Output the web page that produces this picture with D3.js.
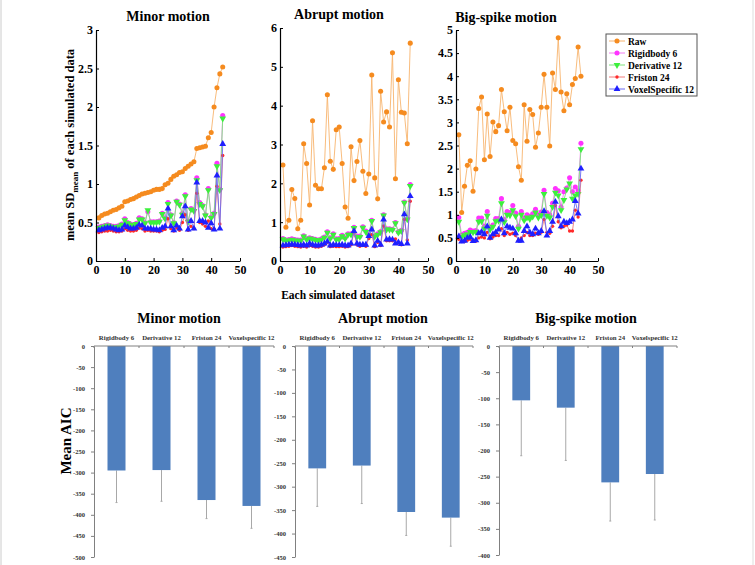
<!DOCTYPE html>
<html>
<head>
<meta charset="utf-8">
<script src="https://cdn.jsdelivr.net/npm/d3@7"></script>
<style>
  body { margin: 0; background: #fff; }
  text { font-family: "Liberation Serif", "DejaVu Serif", serif; font-weight: bold; }
</style>
</head>
<body>
<script>
// ---------- data: line charts (mean SD per simulated dataset, datasets 1..44) ----------
var seriesNames = ["Raw", "Rigidbody 6", "Derivative 12", "Friston 24", "VoxelSpecific 12"];

var minorRaw = [0.56,0.59,0.61,0.62,0.64,0.66,0.67,0.69,0.71,0.77,0.78,0.80,0.81,0.83,0.85,0.87,0.88,0.89,0.90,0.92,0.93,0.93,0.94,0.99,1.01,1.06,1.10,1.12,1.15,1.16,1.20,1.23,1.26,1.29,1.46,1.47,1.48,1.49,1.60,1.67,2.00,2.25,2.43,2.52];
var minorRigid = [0.44,0.45,0.46,0.47,0.46,0.45,0.45,0.46,0.48,0.55,0.50,0.48,0.47,0.49,0.56,0.55,0.50,0.64,0.51,0.51,0.51,0.52,0.62,0.56,0.76,0.60,0.50,0.78,0.74,0.62,0.86,0.52,0.68,0.66,1.08,0.76,0.72,0.60,0.94,0.57,0.62,1.27,0.93,1.89];
var minorDeriv = [0.43,0.44,0.45,0.46,0.45,0.44,0.44,0.45,0.47,0.53,0.49,0.47,0.46,0.48,0.54,0.54,0.49,0.66,0.50,0.50,0.50,0.51,0.61,0.55,0.74,0.59,0.49,0.77,0.73,0.60,0.84,0.51,0.67,0.65,1.05,0.74,0.71,0.59,0.92,0.56,0.61,1.23,0.92,1.85];
var minorFriston = [0.37,0.38,0.39,0.39,0.40,0.39,0.38,0.38,0.39,0.42,0.40,0.39,0.39,0.40,0.43,0.42,0.39,0.40,0.39,0.39,0.39,0.38,0.40,0.41,0.55,0.42,0.39,0.43,0.40,0.50,0.60,0.40,0.45,0.42,0.88,0.50,0.48,0.45,0.52,0.42,0.41,0.97,0.48,1.37];
var minorVoxel = [0.40,0.41,0.42,0.43,0.43,0.42,0.41,0.40,0.41,0.46,0.44,0.42,0.42,0.43,0.47,0.46,0.42,0.42,0.42,0.41,0.41,0.40,0.43,0.45,0.68,0.45,0.40,0.46,0.42,0.58,0.71,0.41,0.52,0.42,1.02,0.52,0.52,0.50,0.43,0.49,0.41,1.11,0.42,1.52];

var abruptRaw = [2.47,0.87,1.05,1.84,1.61,0.83,1.05,3.02,2.51,1.44,3.61,1.95,1.86,1.86,2.40,4.28,2.57,2.36,3.38,3.45,2.51,1.39,1.10,2.94,2.07,2.56,3.10,2.31,1.74,2.24,4.79,2.14,1.60,4.37,3.58,3.84,3.45,5.36,2.12,4.67,3.83,3.81,3.02,5.61];
var abruptRigid = [0.58,0.54,0.55,0.57,0.55,0.54,0.54,0.65,0.57,0.60,0.58,0.56,0.54,0.57,0.62,0.75,0.60,0.70,0.57,0.58,0.66,0.60,0.70,0.70,0.87,0.64,0.64,0.88,0.77,0.68,1.05,0.65,0.70,0.76,1.19,0.83,0.83,0.82,0.99,0.75,0.79,1.52,1.09,1.97];
var abruptDeriv = [0.56,0.52,0.53,0.55,0.53,0.52,0.52,0.63,0.55,0.58,0.56,0.54,0.52,0.55,0.60,0.73,0.58,0.68,0.55,0.56,0.64,0.58,0.68,0.68,0.85,0.62,0.62,0.86,0.75,0.66,1.03,0.63,0.68,0.74,1.17,0.81,0.81,0.80,0.97,0.73,0.77,1.50,1.07,1.93];
var abruptFriston = [0.36,0.37,0.38,0.40,0.38,0.37,0.36,0.38,0.36,0.40,0.38,0.36,0.36,0.38,0.42,0.48,0.37,0.38,0.37,0.37,0.38,0.36,0.37,0.42,0.73,0.42,0.38,0.40,0.38,0.58,0.68,0.37,0.48,0.40,0.90,0.52,0.52,0.52,0.57,0.46,0.42,1.07,0.54,1.54];
var abruptVoxel = [0.40,0.41,0.42,0.43,0.42,0.41,0.40,0.42,0.40,0.45,0.42,0.40,0.40,0.42,0.45,0.50,0.40,0.42,0.41,0.41,0.42,0.40,0.40,0.45,0.77,0.45,0.42,0.42,0.42,0.64,0.81,0.40,0.52,0.42,1.07,0.55,0.56,0.55,0.45,0.48,0.44,1.20,0.45,1.67];

var bigRaw = [2.73,1.05,1.62,2.07,2.17,1.51,1.99,3.30,3.55,2.19,3.18,2.26,3.01,2.80,2.93,3.71,3.23,2.82,3.33,2.61,2.54,2.04,1.75,3.38,2.59,3.28,3.17,2.46,2.77,3.33,4.04,3.33,2.49,4.07,3.71,4.83,3.66,3.25,3.62,3.38,3.82,3.95,4.63,4.00];
var bigRigid = [0.94,0.57,0.60,0.62,0.67,0.65,0.66,0.93,0.93,0.75,1.07,0.72,0.78,0.92,0.92,1.35,0.90,1.07,1.05,1.20,1.04,0.75,1.07,0.93,1.00,0.97,1.02,1.12,1.00,1.06,1.53,1.05,1.00,1.25,1.57,1.52,1.17,1.50,1.58,1.80,1.50,1.60,1.52,2.55];
var bigDeriv = [0.85,0.52,0.56,0.58,0.63,0.62,0.63,0.85,0.86,0.70,0.98,0.68,0.74,0.86,0.87,1.25,0.84,1.00,0.99,1.10,0.97,0.70,1.00,0.88,0.94,0.91,0.96,1.05,0.94,0.99,1.45,0.98,0.94,1.17,1.48,1.42,1.10,1.32,1.55,1.68,1.35,1.42,1.45,2.42];
var bigFriston = [0.47,0.42,0.42,0.45,0.47,0.44,0.43,0.50,0.52,0.50,0.62,0.48,0.52,0.55,0.55,0.70,0.55,0.62,0.58,0.60,0.55,0.45,0.50,0.55,0.62,0.55,0.55,0.60,0.58,0.62,0.90,0.62,0.60,0.75,1.20,0.85,0.72,0.75,0.78,0.65,0.65,1.10,0.95,1.75];
var bigVoxel = [0.53,0.42,0.44,0.50,0.52,0.43,0.45,0.60,0.63,0.58,0.75,0.50,0.58,0.62,0.68,0.90,0.60,0.75,0.72,0.70,0.60,0.44,0.44,0.65,0.75,0.62,0.58,0.70,0.60,0.65,1.08,0.55,0.65,0.85,1.28,0.97,0.75,0.85,0.82,0.85,0.90,1.30,1.03,2.00];

// ---------- data: bar charts (mean AIC, with SD) ----------
var models = ["Rigidbody 6", "Derivative 12", "Friston 24", "Voxelspecific 12"];
var minorAIC = [-295, -294, -365, -379];
var minorSD  = [76, 74, 44, 53];
var abruptAIC = [-261, -255, -354, -366];
var abruptSD  = [81, 81, 50, 61];
var bigAIC = [-104, -118, -261, -245];
var bigSD  = [106, 101, 74, 88];

// ---------- styles ----------
var markerColor = ["#f58b1f", "#ff33ff", "#3cf03c", "#ff2a2a", "#1f1fff"];
var lineColor   = ["#f7b46e", "#f07ef0", "#7ce27c", "#f27a7a", "#6a6af2"];

var width = 755, height = 565;
var svg = d3.select("body").append("svg")
    .attr("width", width)
    .attr("height", height);

// faint frame edges like the scanned figure
svg.append("line").attr("x1", 1).attr("x2", 1).attr("y1", 0).attr("y2", height).attr("stroke", "#ccc");
svg.append("line").attr("x1", width - 2).attr("x2", width - 2).attr("y1", 0).attr("y2", height).attr("stroke", "#ddd");

function markerPath(i) {
  if (i === 2) return d3.symbol().type(d3.symbolTriangle).size(20)();
  if (i === 4) return d3.symbol().type(d3.symbolTriangle).size(20)();
  if (i === 3) return d3.symbol().type(d3.symbolCircle).size(9)();
  return d3.symbol().type(d3.symbolCircle).size(i === 0 ? 20 : 20)();
}
function markerRot(i) { return i === 2 ? " rotate(180)" : ""; }

var linePanels = [
  { title: "Minor motion", left: 96, right: 240, top: 30, yMax: 3, yTicks: [0,0.5,1,1.5,2,2.5,3], tx: 168, ty: 21,
    series: [minorRaw, minorRigid, minorDeriv, minorFriston, minorVoxel] },
  { title: "Abrupt motion", left: 280, right: 428, top: 28, yMax: 6, yTicks: [0,1,2,3,4,5,6], tx: 339, ty: 19,
    series: [abruptRaw, abruptRigid, abruptDeriv, abruptFriston, abruptVoxel] },
  { title: "Big-spike motion", left: 456, right: 598, top: 30, yMax: 5, yTicks: [0,0.5,1,1.5,2,2.5,3,3.5,4,4.5,5], tx: 506, ty: 22,
    series: [bigRaw, bigRigid, bigDeriv, bigFriston, bigVoxel] }
];

linePanels.forEach(function(p) {
  var x = d3.scaleLinear().domain([0, 50]).range([p.left, p.right]);
  var y = d3.scaleLinear().domain([0, p.yMax]).range([261, p.top]);
  var g = svg.append("g");

  // series: lines then markers (plotted in order so blue ends on top)
  p.series.forEach(function(vals, si) {
    var pts = vals.map(function(v, i) { return [i + 1, v]; });
    var line = d3.line().x(function(d) { return x(d[0]); }).y(function(d) { return y(d[1]); });
    g.append("path")
        .attr("d", line(pts))
        .attr("fill", "none")
        .attr("stroke", lineColor[si])
        .attr("stroke-width", 0.9);
    g.selectAll(null)
        .data(pts)
      .enter().append("path")
        .attr("d", markerPath(si))
        .attr("transform", function(d) { return "translate(" + x(d[0]) + "," + y(d[1]) + ")" + markerRot(si); })
        .attr("fill", markerColor[si]);
  });

  var xAxis = g.append("g")
      .attr("transform", "translate(0,261)")
      .call(d3.axisBottom(x).tickValues([0,10,20,30,40,50]).tickSizeInner(-3).tickSizeOuter(0).tickPadding(4));
  var yAxis = g.append("g")
      .attr("transform", "translate(" + p.left + ",0)")
      .call(d3.axisLeft(y).tickValues(p.yTicks).tickFormat(d3.format("")).tickSizeInner(-3).tickSizeOuter(0).tickPadding(3));
  [xAxis, yAxis].forEach(function(a) {
    a.select(".domain").attr("stroke", "#000").attr("stroke-width", 1.2);
    a.selectAll(".tick line").attr("stroke", "#000");
    a.selectAll("text").attr("font-size", 12).attr("fill", "#000")
      .attr("font-family", "Liberation Serif, serif").attr("font-weight", "bold");
  });

  svg.append("text")
      .attr("x", p.tx).attr("y", p.ty)
      .attr("text-anchor", "middle")
      .attr("font-size", 14)
      .text(p.title);
});

// y-axis label with subscript
var yl = svg.append("text")
    .attr("transform", "translate(74,145) rotate(-90)")
    .attr("text-anchor", "middle")
    .attr("font-size", 12.5);
yl.append("tspan").text("mean SD");
yl.append("tspan").attr("dy", 4).attr("font-size", 9).text("mean");
yl.append("tspan").attr("dy", -4).text(" of each simulated data");

svg.append("text")
    .attr("x", 338).attr("y", 299)
    .attr("text-anchor", "middle")
    .attr("font-size", 11.5)
    .text("Each simulated dataset");

// legend
var legend = svg.append("g").attr("transform", "translate(606,34)");
legend.append("rect")
    .attr("width", 91).attr("height", 62)
    .attr("fill", "#fff").attr("stroke", "#555").attr("stroke-width", 1);
seriesNames.forEach(function(name, i) {
  var yy = 7 + i * 12;
  legend.append("line").attr("x1", 3).attr("x2", 19).attr("y1", yy).attr("y2", yy)
      .attr("stroke", lineColor[i]).attr("stroke-width", 1);
  legend.append("path").attr("d", markerPath(i))
      .attr("transform", "translate(11," + yy + ")" + markerRot(i))
      .attr("fill", markerColor[i]);
  legend.append("text").attr("x", 22).attr("y", yy + 3.5)
      .attr("font-size", 9.5).text(name);
});

// ---------- bar charts ----------
var barPanels = [
  { title: "Minor motion", left: 94, right: 274, bottom: 557, yMin: -500, values: minorAIC, sd: minorSD, tx: 179 },
  { title: "Abrupt motion", left: 295, right: 473, bottom: 557, yMin: -450, values: abruptAIC, sd: abruptSD, tx: 383 },
  { title: "Big-spike motion", left: 499, right: 677, bottom: 555, yMin: -400, values: bigAIC, sd: bigSD, tx: 586 }
];

barPanels.forEach(function(p) {
  var x = d3.scaleBand().domain(models).range([p.left, p.right]).paddingInner(0.6).paddingOuter(0.3);
  var y = d3.scaleLinear().domain([p.yMin, 0]).range([p.bottom, 346]);
  var g = svg.append("g");
  var rows = models.map(function(m, i) { return { m: m, v: p.values[i], sd: p.sd[i] }; });

  // error bars (downward only)
  g.selectAll(".err")
      .data(rows)
    .enter().append("line")
      .attr("x1", function(d) { return x(d.m) + x.bandwidth() / 2; })
      .attr("x2", function(d) { return x(d.m) + x.bandwidth() / 2; })
      .attr("y1", function(d) { return y(d.v); })
      .attr("y2", function(d) { return y(d.v - d.sd); })
      .attr("stroke", "#a8a8a8").attr("stroke-width", 1);
  g.selectAll(".cap")
      .data(rows)
    .enter().append("line")
      .attr("x1", function(d) { return x(d.m) + x.bandwidth() / 2 - 1; })
      .attr("x2", function(d) { return x(d.m) + x.bandwidth() / 2 + 1; })
      .attr("y1", function(d) { return y(d.v - d.sd); })
      .attr("y2", function(d) { return y(d.v - d.sd); })
      .attr("stroke", "#a8a8a8").attr("stroke-width", 1);

  g.selectAll(".bar")
      .data(rows)
    .enter().append("rect")
      .attr("x", function(d) { return x(d.m); })
      .attr("y", y(0))
      .attr("width", x.bandwidth())
      .attr("height", function(d) { return y(d.v) - y(0); })
      .attr("fill", "#4f7fbe");

  // y axis (plain hyphen minus like the original)
  var yAxis = g.append("g")
      .attr("transform", "translate(" + p.left + ",0)")
      .call(d3.axisLeft(y).ticks(-p.yMin / 50).tickFormat(function(d) { return String(d); })
        .tickSizeInner(3).tickSizeOuter(0).tickPadding(6));
  yAxis.select(".domain").attr("stroke", "#808080");
  yAxis.selectAll(".tick line").attr("stroke", "#808080");
  yAxis.selectAll("text").attr("font-size", 6.5).attr("fill", "#333")
      .attr("font-family", "Liberation Serif, serif").attr("font-weight", "bold");

  // category axis along y=0
  g.append("line").attr("x1", p.left).attr("x2", p.right).attr("y1", y(0)).attr("y2", y(0))
      .attr("stroke", "#808080");
  d3.range(models.length + 1).forEach(function(k) {
    var xx = p.left + k * (p.right - p.left) / models.length;
    g.append("line").attr("x1", xx).attr("x2", xx).attr("y1", y(0)).attr("y2", y(0) + 2)
        .attr("stroke", "#808080");
  });
  g.selectAll(".cat")
      .data(models)
    .enter().append("text")
      .attr("x", function(d) { return x(d) + x.bandwidth() / 2; })
      .attr("y", 340)
      .attr("text-anchor", "middle")
      .attr("font-size", 6.8)
      .attr("fill", "#333")
      .text(function(d) { return d; });

  svg.append("text")
      .attr("x", p.tx).attr("y", 323)
      .attr("text-anchor", "middle")
      .attr("font-size", 14)
      .text(p.title);
});

svg.append("text")
    .attr("transform", "translate(71,441) rotate(-90)")
    .attr("text-anchor", "middle")
    .attr("font-size", 15)
    .text("Mean  AIC");
</script>
</body>
</html>
